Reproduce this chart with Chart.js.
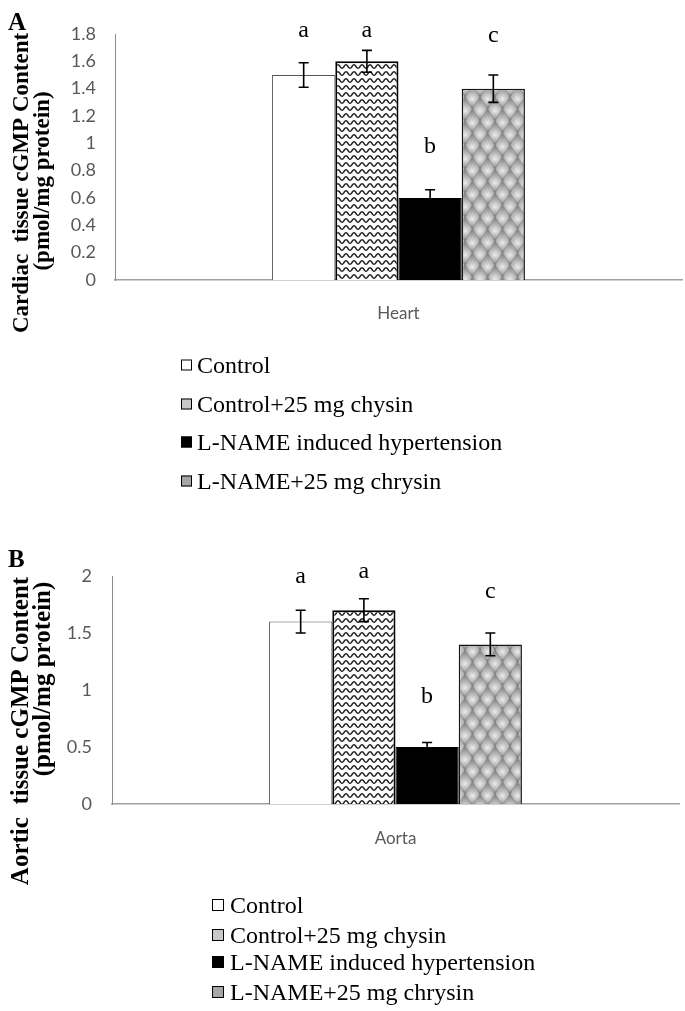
<!DOCTYPE html>
<html><head><meta charset="utf-8">
<script src="https://cdn.jsdelivr.net/npm/chart.js@4"></script>
<style>
html,body{margin:0;padding:0;background:#fff;}
#wrap{position:relative;width:685px;height:1011px;overflow:hidden;background:#fff;}
canvas{position:absolute;left:0;display:block;}
</style></head><body>
<div id="wrap">
<canvas id="cA" width="685" height="505" style="top:0;width:685px;height:505px"></canvas>
<canvas id="cB" width="685" height="506" style="top:505px;width:685px;height:506px"></canvas>
</div>
<script>
// ---------------- data ----------------
const groups = ['Control', 'Control+25 mg chysin', 'L-NAME induced hypertension', 'L-NAME+25 mg chrysin'];

const heartCategories = ['Heart'];
const heartValues = [1.5, 1.6, 0.6, 1.4];
const heartErrors = [0.09, 0.08, 0.06, 0.10];
const heartLetters = ['a', 'a', 'b', 'c'];
const heartLetterLevels = [1.78, 1.78, 0.93, 1.74];
const heartTickValues = [0, 0.2, 0.4, 0.6, 0.8, 1, 1.2, 1.4, 1.6, 1.8];
const heartTickLabels = ['0', '0.2', '0.4', '0.6', '0.8', '1', '1.2', '1.4', '1.6', '1.8'];

const aortaCategories = ['Aorta'];
const aortaValues = [1.6, 1.7, 0.5, 1.4];
const aortaErrors = [0.10, 0.10, 0.04, 0.10];
const aortaLetters = ['a', 'a', 'b', 'c'];
const aortaLetterLevels = [1.94, 1.98, 0.89, 1.81];
const aortaTickValues = [0, 0.5, 1, 1.5, 2];
const aortaTickLabels = ['0', '0.5', '1', '1.5', '2'];

// ---------------- patterns ----------------
function wavePattern() {
  const c = document.createElement('canvas'); c.width = 8; c.height = 7;
  const g = c.getContext('2d');
  g.fillStyle = '#fff'; g.fillRect(0, 0, 8, 7);
  g.strokeStyle = '#262626'; g.lineWidth = 1.5; g.beginPath();
  for (let x = -1; x <= 9.01; x += 0.5) {
    const y = 3.5 - 1.8 * Math.sin(2 * Math.PI * x / 8);
    if (x === -1) g.moveTo(x, y); else g.lineTo(x, y);
  }
  g.stroke();
  return g.createPattern(c, 'repeat');
}
function scalePattern() {
  const W = 15, H = 24;
  const c = document.createElement('canvas'); c.width = W; c.height = H;
  const g = c.getContext('2d');
  g.fillStyle = '#808080'; g.fillRect(0, 0, W, H);
  const centers = [[W / 2, 0], [0, H / 2], [W, H / 2], [W / 2, H]];
  centers.forEach(([cx, cy]) => {
    const gr = g.createRadialGradient(cx, cy + 3, 0, cx, cy + 2, 11);
    gr.addColorStop(0, '#ececec');
    gr.addColorStop(0.45, '#bdbdbd');
    gr.addColorStop(1, '#888888');
    g.fillStyle = gr;
    g.beginPath();
    g.moveTo(cx, cy - H / 2 + 0.6);
    g.quadraticCurveTo(cx + W / 2 - 1, cy - 2, cx + W / 2 - 0.6, cy + 2);
    g.lineTo(cx, cy + H / 2 - 0.6);
    g.lineTo(cx - W / 2 + 0.6, cy + 2);
    g.quadraticCurveTo(cx - W / 2 + 1, cy - 2, cx, cy - H / 2 + 0.6);
    g.closePath(); g.fill();
  });
  return g.createPattern(c, 'repeat');
}

const barFills = ['#ffffff', wavePattern(), '#000000', scalePattern()];
const barBorders = ['#555555', '#000000', '#000000', '#151515'];
const barBorderWidths = [1, 2, 1, 1.5];
const swatchFills = ['#ffffff', '#c8c8c8', '#000000', '#a6a6a6'];

// ---------------- annotation plugin ----------------
const annotPlugin = {
  id: 'annot',
  afterDatasetsDraw(chart, args, o) {
    const ctx = chart.ctx, y = chart.scales.y;
    ctx.save();
    chart.data.datasets.forEach((ds, i) => {
      const bar = chart.getDatasetMeta(i).data[0];
      const v = ds.data[0], e = o.errors[i];
      const x = bar.x, yt = y.getPixelForValue(v + e), yb = y.getPixelForValue(v - e);
      ctx.strokeStyle = '#000'; ctx.lineWidth = 1.6;
      ctx.beginPath();
      ctx.moveTo(x, yt); ctx.lineTo(x, yb);
      ctx.moveTo(x - 5, yt); ctx.lineTo(x + 5, yt);
      ctx.moveTo(x - 5, yb); ctx.lineTo(x + 5, yb);
      ctx.stroke();
      ctx.fillStyle = '#000';
      ctx.font = '24px "Liberation Serif"';
      ctx.textAlign = 'center'; ctx.textBaseline = 'alphabetic';
      ctx.fillText(o.letters[i], x, y.getPixelForValue(o.letterLevels[i]));
    });
    ctx.restore();
  },
  afterDraw(chart, args, o) {
    const ctx = chart.ctx;
    ctx.save();
    // panel tag
    ctx.fillStyle = '#000';
    ctx.font = 'bold 25px "Liberation Serif"';
    ctx.textAlign = 'left'; ctx.textBaseline = 'alphabetic';
    ctx.fillText(o.tag.text, o.tag.x, o.tag.y);
    // y title (two rotated lines)
    o.yTitle.forEach(t => {
      ctx.save();
      ctx.translate(t.x, t.y);
      ctx.rotate(-Math.PI / 2);
      ctx.font = 'bold ' + t.size + 'px "Liberation Serif"';
      ctx.textAlign = 'center'; ctx.textBaseline = 'alphabetic';
      ctx.fillText(t.text, 0, 0);
      ctx.restore();
    });
    // legend
    const L = o.legend;
    groups.forEach((g, i) => {
      const cy = L.rows[i];
      ctx.fillStyle = swatchFills[i];
      ctx.fillRect(L.x, cy - L.size / 2, L.size, L.size);
      ctx.strokeStyle = '#000'; ctx.lineWidth = 1;
      ctx.strokeRect(L.x + 0.5, cy - L.size / 2 + 0.5, L.size - 1, L.size - 1);
      ctx.fillStyle = '#000';
      ctx.font = L.font + 'px "Liberation Serif"';
      ctx.textAlign = 'left'; ctx.textBaseline = 'alphabetic';
      ctx.fillText(g, L.textX, cy + 0.331 * L.font);
    });
    ctx.restore();
  }
};

function makeChart(id, cfg) {
  return new Chart(document.getElementById(id), {
    type: 'bar',
    data: {
      labels: cfg.categories,
      datasets: groups.map((g, i) => ({
        label: g,
        data: [cfg.values[i]],
        backgroundColor: barFills[i],
        borderColor: barBorders[i],
        borderWidth: barBorderWidths[i],
        borderSkipped: 'start'
      }))
    },
    options: {
      responsive: false, animation: false, devicePixelRatio: 1,
      layout: { padding: { left: 0, right: cfg.padRight, top: cfg.areaTop, bottom: cfg.padBottom } },
      datasets: { bar: { barPercentage: 1, categoryPercentage: 0.446 } },
      scales: {
        x: {
          grid: { display: false, drawTicks: false },
          border: { display: true, color: '#a0a0a0', width: 1.5 },
          ticks: { color: '#595959', font: { family: 'Lato', size: 17 }, padding: cfg.xPad },
          afterFit(s) { s.height = 60; }
        },
        y: {
          min: 0, max: cfg.max,
          grid: { display: false, drawTicks: false },
          border: { display: true, color: '#8c8c8c', width: 1 },
          ticks: { color: '#595959', font: { family: 'Lato', size: 18 }, padding: cfg.yPad,
                   callback: (v, i) => cfg.tickLabels[i] },
          afterBuildTicks(s) { s.ticks = cfg.tickValues.map(v => ({ value: v })); },
          afterFit(s) { s.width = cfg.areaLeft; }
        }
      },
      plugins: {
        legend: { display: false },
        tooltip: { enabled: false },
        annot: {
          errors: cfg.errors, letters: cfg.letters, letterLevels: cfg.letterLevels,
          tag: cfg.tag, yTitle: cfg.yTitle, legend: cfg.legend
        }
      }
    },
    plugins: [annotPlugin]
  });
}

makeChart('cA', {
  categories: heartCategories, values: heartValues, errors: heartErrors,
  letters: heartLetters, letterLevels: heartLetterLevels,
  tickValues: heartTickValues, tickLabels: heartTickLabels, max: 1.8,
  areaLeft: 115, areaTop: 34, padRight: 3, padBottom: 505 - 280 - 60, xPad: 23, yPad: 19,
  tag: { text: 'A', x: 8, y: 30 },
  yTitle: [
    { text: 'Cardiac  tissue cGMP Content', x: 28, y: 183, size: 23 },
    { text: '(pmol/mg protein)', x: 49, y: 181, size: 23 }
  ],
  legend: { x: 181, size: 11, textX: 197, rows: [365, 404, 442, 481], font: 24 }
});

makeChart('cB', {
  categories: aortaCategories, values: aortaValues, errors: aortaErrors,
  letters: aortaLetters, letterLevels: aortaLetterLevels,
  tickValues: aortaTickValues, tickLabels: aortaTickLabels, max: 2,
  areaLeft: 112, areaTop: 71, padRight: 6, padBottom: 506 - 299 - 60, xPad: 24, yPad: 20,
  tag: { text: 'B', x: 8, y: 62 },
  yTitle: [
    { text: 'Aortic  tissue cGMP Content', x: 28, y: 226, size: 25 },
    { text: '(pmol/mg protein)', x: 50, y: 174, size: 25 }
  ],
  legend: { x: 212, size: 12, textX: 230, rows: [400, 430, 457, 487], font: 24 }
});
</script>
</body></html>
